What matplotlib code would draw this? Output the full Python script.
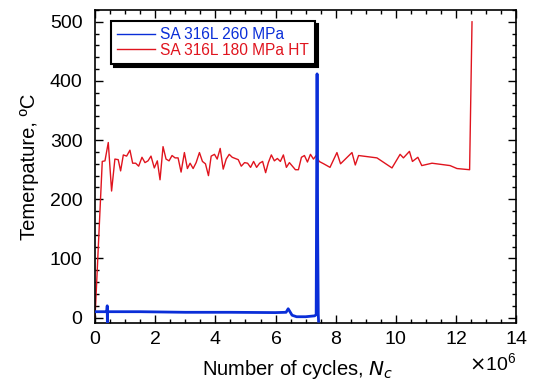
import numpy as np
import matplotlib
matplotlib.use("Agg")
import matplotlib.pyplot as plt
from matplotlib.ticker import MultipleLocator, ScalarFormatter

# red: SA 316L 180 MPa HT (cycles in millions, temperature in C)
red_x = [0.0, 0.24, 0.33, 0.44, 0.55, 0.66, 0.77, 0.85, 0.94, 1.05, 1.16, 1.25,
         1.35, 1.45, 1.56, 1.66, 1.76, 1.86, 1.97, 2.07, 2.16, 2.26, 2.36, 2.46,
         2.56, 2.66, 2.76, 2.86, 2.97, 3.07, 3.16, 3.26, 3.36, 3.47, 3.57, 3.67,
         3.77, 3.86, 3.97, 4.06, 4.16, 4.26, 4.36, 4.46, 4.56, 4.66, 4.76, 4.86,
         4.97, 5.07, 5.17, 5.27, 5.37, 5.47, 5.57, 5.67, 5.76, 5.86, 5.96, 6.06,
         6.16, 6.26, 6.36, 6.46, 6.56, 6.66, 6.76, 6.86, 6.96, 7.06, 7.16, 7.26,
         7.35, 7.45, 7.6, 7.81, 8.04, 8.16, 8.54, 8.65, 8.76, 9.37, 9.87, 10.14,
         10.25, 10.45, 10.55, 10.73, 10.86, 11.2, 11.8, 12.03, 12.45, 12.53]
red_y = [0, 264, 265, 296, 214, 268, 267, 248, 275, 273, 283, 261,
         261, 256, 271, 262, 265, 273, 253, 265, 233, 289, 268, 265,
         274, 270, 270, 246, 279, 252, 261, 252, 262, 279, 264, 260,
         240, 273, 276, 268, 286, 251, 268, 276, 271, 269, 267, 256,
         262, 261, 254, 264, 254, 261, 264, 245, 262, 275, 265, 269,
         264, 275, 254, 262, 256, 250, 250, 271, 274, 263, 276, 268,
         274, 264, 260, 254, 279, 260, 279, 258, 274, 270, 253, 276,
         270, 281, 264, 271, 257, 261, 257, 252, 250, 500]

# blue: SA 316L 260 MPa
blue_x = [0.0, 0.39, 0.405, 0.41, 0.415, 0.43, 1.5, 3.0, 4.5, 6.0, 6.35, 6.42,
          6.55, 6.7, 7.0, 7.3, 7.35, 7.36, 7.37, 7.38, 7.39, 7.40, 7.42, 7.43]
blue_y = [10, 10, 20, -10, 10, 10, 10, 9, 9, 8.5, 9, 15,
          4, 1.5, 1.5, 3, 5, 143, 300, 412, 300, 143, 5, -6]

RED = "#e0141e"
BLUE = "#0a2ed8"

plt.rcParams["font.family"] = ["Liberation Sans", "DejaVu Sans"]

fig = plt.figure(figsize=(5.4, 3.84), dpi=100)
ax = fig.add_axes([0.176, 0.159, 0.780, 0.815])

ax.plot(np.array(blue_x) * 1e6, blue_y, color=BLUE, lw=2.0,
        label="SA 316L 260 MPa", zorder=3)
ax.plot(np.array(red_x) * 1e6, red_y, color=RED, lw=1.0,
        label="SA 316L 180 MPa HT", zorder=2)

ax.set_xlim(0, 14e6)
ax.set_ylim(-9, 520)
ax.xaxis.set_major_locator(MultipleLocator(2e6))
ax.xaxis.set_minor_locator(MultipleLocator(0.5e6))
ax.yaxis.set_major_locator(MultipleLocator(100))
ax.yaxis.set_minor_locator(MultipleLocator(20))
fmt = ScalarFormatter(useMathText=True)
fmt.set_powerlimits((6, 6))  # fixed x10^6
ax.xaxis.set_major_formatter(fmt)
ax.xaxis.get_offset_text().set_fontsize(14)

ax.tick_params(which="both", direction="in", top=True, right=True,
               labelsize=14, width=1.0)
ax.tick_params(which="major", length=6)
ax.tick_params(which="minor", length=3)
ax.tick_params(axis="x", which="major", pad=6)
ax.tick_params(axis="y", which="major", pad=9)
for s in ax.spines.values():
    s.set_linewidth(1.2)

ax.set_xlabel("Number of cycles, $N_c$", fontsize=14.5)
ax.xaxis.set_label_coords(0.48, -0.112)
ax.set_ylabel("Temerpature, ºC", fontsize=14.5, labelpad=8)

leg = ax.legend(loc="upper left", bbox_to_anchor=(0.038, 0.965),
                borderaxespad=0, fancybox=False, fontsize=11.2,
                handlelength=2.4, handletextpad=0.35, borderpad=0.4,
                labelspacing=0.05, framealpha=1,
                shadow={"color": "black", "alpha": 1})
leg.get_frame().set_edgecolor("black")
leg.get_frame().set_linewidth(1.5)
for line in leg.get_lines():
    line.set_linewidth(1.0)
for txt, c in zip(leg.get_texts(), [BLUE, RED]):
    txt.set_color(c)

fig.savefig("out.png", dpi=100)
